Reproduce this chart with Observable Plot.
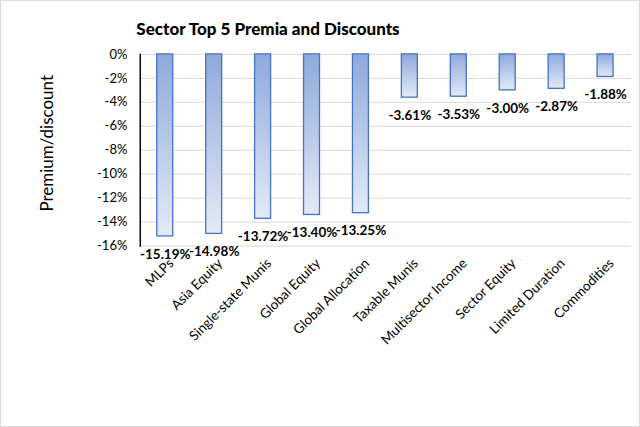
<!DOCTYPE html>
<html>
<head>
<meta charset="utf-8">
<script src="https://cdn.jsdelivr.net/npm/d3@7"></script>
<script src="https://cdn.jsdelivr.net/npm/@observablehq/plot@0.6"></script>
<style>
  html, body { margin: 0; padding: 0; background: #fff; }
  #wrap { position: relative; width: 638px; height: 425px; border: 1px solid #d9d9d9; overflow: hidden; font-family: Lato, "Open Sans", sans-serif; }
  #title { position: absolute; left: 0; width: 534px; top: 17px; text-align: center; font-weight: 900; font-size: 17px; color: #000; }
  #chart { position: absolute; left: -1px; top: -1px; }
</style>
</head>
<body>
<div id="wrap">
  <div id="chart"></div>
  <div id="title">Sector Top 5 Premia and Discounts</div>
</div>
<script>
const sectors = ["MLPs", "Asia Equity", "Single-state Munis", "Global Equity", "Global Allocation",
  "Taxable Munis", "Multisector Income", "Sector Equity", "Limited Duration", "Commodities"];
const values = [-15.19, -14.98, -13.72, -13.40, -13.25, -3.61, -3.53, -3.00, -2.87, -1.88];
const yTicks = [0, -2, -4, -6, -8, -10, -12, -14, -16];

const data = sectors.map((s, i) => ({sector: s, value: values[i]}));

const gradient = () => {
  const defs = d3.create("svg:defs");
  const g = defs.append("linearGradient").attr("id", "barGrad")
    .attr("x1", 0).attr("y1", 0).attr("x2", 0).attr("y2", 1);
  g.append("stop").attr("offset", "0%").attr("stop-color", "#8EA9DB");
  g.append("stop").attr("offset", "100%").attr("stop-color", "#E3EAF6");
  return defs.node();
};

const chart = Plot.plot({
  width: 640,
  height: 427,
  marginLeft: 140,
  marginRight: 8,
  marginTop: 54,
  marginBottom: 181,
  style: {fontFamily: "Lato, 'Open Sans', sans-serif", fontSize: "13px", color: "#000", background: "transparent"},
  x: {domain: sectors, paddingInner: 0.67, paddingOuter: 0.335, label: null},
  y: {domain: [-16, 0], label: null},
  marks: [
    gradient,
    Plot.gridY(yTicks, {stroke: "#d9d9d9", strokeOpacity: 1}),
    Plot.barY(data, {x: "sector", y: "value", fill: "url(#barGrad)", stroke: "#4472C4", strokeWidth: 1.3}),
    Plot.frame({anchor: "left", stroke: "#000", strokeWidth: 1.5}),
    Plot.text(data, {x: "sector", y: "value", text: d => d.value.toFixed(2) + "%", dy: 18, fontWeight: "bold", fontSize: 13.5, fill: "#000"}),
    Plot.axisY(yTicks, {tickSize: 0, tickPadding: 13, tickFormat: d => d + "%", fontSize: 13, label: null}),
    Plot.axisX({tickSize: 0, tickPadding: 15, dx: 6, tickRotate: -45, fontSize: 13.5, label: null}),
    Plot.text(["Premium/discount"], {frameAnchor: "left", textAnchor: "middle", dx: -93, dy: -7, rotate: -90, fontSize: 17, fill: "#000"})
  ]
});
document.getElementById("chart").appendChild(chart);
</script>
</body>
</html>
